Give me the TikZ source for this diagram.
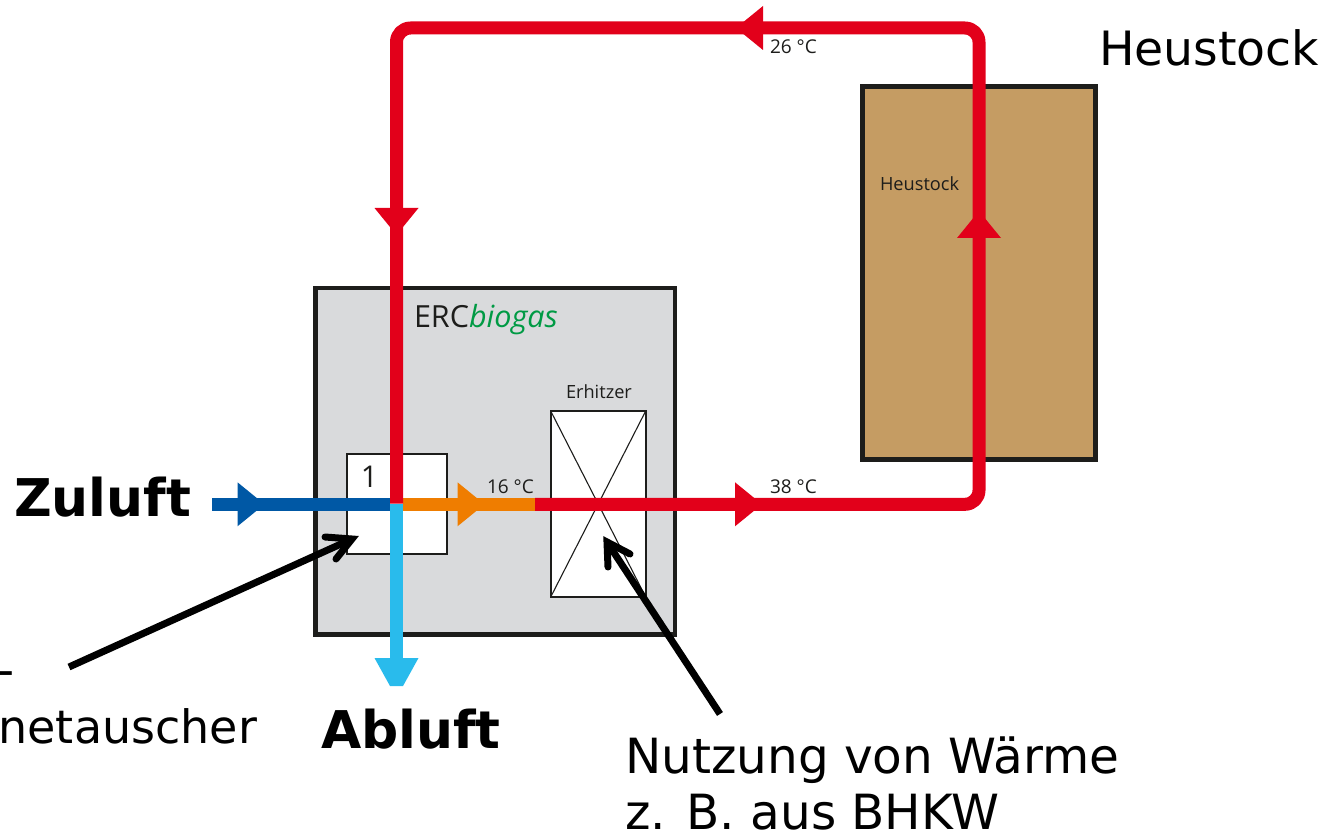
\documentclass[tikz,border=0pt]{standalone}
\usepackage{fontspec}
\setmainfont{DejaVu Sans}
\newfontfamily\smallfont{Open Sans}
\definecolor{flowred}{HTML}{E2001A}
\definecolor{flowblue}{HTML}{0058A5}
\definecolor{flowcyan}{HTML}{29BBEC}
\definecolor{floworange}{HTML}{EF7D00}
\definecolor{boxgray}{HTML}{D9DADC}
\definecolor{haytan}{HTML}{C59C63}
\definecolor{logogreen}{HTML}{009A44}
\definecolor{inkdark}{HTML}{1D1D1B}
\newcommand{\tipR}[3]{\fill[#1] (#2-13,#3-22) -- (#2+14,#3) -- (#2-13,#3+22) -- cycle;}
\newcommand{\tipL}[3]{\fill[#1] (#2+13,#3-22) -- (#2-14,#3) -- (#2+13,#3+22) -- cycle;}
\newcommand{\tipU}[3]{\fill[#1] (#2-22,#3+13) -- (#2,#3-14) -- (#2+22,#3+13) -- cycle;}
\newcommand{\tipD}[3]{\fill[#1] (#2-22,#3-13) -- (#2,#3+14) -- (#2+22,#3-13) -- cycle;}
\tikzset{
  x=1pt, y=-1pt,
  flow/.style={line width=13pt, line cap=butt, line join=round},
  plantbox/.style={draw=inkdark, line width=4.5pt, inner sep=0pt, outer sep=0pt},
  thinbox/.style={draw=inkdark, line width=1.7pt, fill=white, inner sep=0pt, outer sep=0pt},
  callout/.style={line width=7pt, black},
  callouthead/.style={line width=7pt, black, line cap=round, miter limit=10},
  biglabel/.style={anchor=base west, inner sep=0pt, outer sep=0pt, font=\fontsize{47.3}{47.3}\selectfont, text=black},
  uselabel/.style={biglabel, font=\fontsize{48.5}{48.5}\selectfont},
  boldlabel/.style={biglabel, font=\fontsize{52}{52}\selectfont\bfseries},
  smalllabel/.style={anchor=base west, inner sep=0pt, outer sep=0pt, text=inkdark, font=\smallfont\fontsize{18.2}{18.2}\selectfont},
}
\begin{document}
\begin{tikzpicture}
\useasboundingbox (0,0) rectangle (1328,834);
% boxes
\node[plantbox, fill=boxgray, minimum width=359.5pt, minimum height=346.5pt] (plant) at (495.25,461.25) {};
\node[plantbox, fill=haytan, minimum width=233pt, minimum height=372.5pt] (hay) at (979,273) {};
\draw[inkdark, line width=1pt] (860.5,85) -- (1078,85);
\node[thinbox, minimum width=100pt, minimum height=100pt] (hx) at (396.7,504.3) {};
\node[thinbox, minimum width=95pt, minimum height=186pt] (heater) at (598.2,504) {};
\draw[inkdark, line width=1.1pt] (heater.north west) -- (heater.south east) (heater.north east) -- (heater.south west);
% flow coordinates
\coordinate (inlet) at (212,504.3);
\coordinate (cross) at (396.5,504.3);
\coordinate (mix) at (535,504.3);
\coordinate (corner1) at (979,504.3);
\coordinate (corner2) at (979,28);
\coordinate (corner3) at (396.5,28);
\coordinate (outlet) at (396.5,686);
% flows
\draw[flow, flowcyan] (cross) -- (outlet);
\draw[flow, flowblue] (inlet) -- (390,504.3);
\draw[flow, floworange] (403,504.3) -- (mix);
\draw[flow, flowred, rounded corners=14pt] (mix) -- (corner1) -- (corner2) -- (corner3) -- (396.5,503.5);
% arrowheads
\tipR{flowblue}{250.5}{504.3}
\tipR{floworange}{470.5}{504.3}
\tipR{flowred}{748}{504.3}
\tipL{flowred}{750}{28}
\tipD{flowred}{396.5}{221}
\tipU{flowred}{979}{225}
\fill[flowcyan] (374.5,658) -- (418.5,658) -- (403,686) -- (390,686) -- cycle;
% temperatures and labels
\node[smalllabel, font=\smallfont\fontsize{19}{19}\selectfont] (t26) at (770,54) {26 °C};
\node[smalllabel, font=\smallfont\fontsize{19}{19}\selectfont] (t38) at (770,493) {38 °C};
\node[smalllabel, font=\smallfont\fontsize{19}{19}\selectfont] (t16) at (487,493) {16 °C};
\node[smalllabel] (haysmall) at (880,190.5) {Heustock};
\node[smalllabel] (heaterlabel) at (566,398.5) {Erhitzer};
\node[smalllabel, anchor=base, font=\smallfont\fontsize{30}{30}\selectfont] (one) at (369.5,487.5) {1};
\node[smalllabel, font=\smallfont\fontsize{30.5}{30.5}\selectfont] (logo) at (414,327) {ERC\textcolor{logogreen}{\itshape biogas}};
% big labels
\node[biglabel] (hayhead) at (1099,66) {Heustock};
\node[boldlabel] (zu) at (14,516) {Zuluft};
\node[boldlabel] (ab) at (321,748.5) {Abluft};
\node[uselabel] (use1) at (625,773) {Nutzung von Wärme};
\node[uselabel] (use2) at (625,829.5) {z. B. aus BHKW};
\node[biglabel, anchor=base east, font=\fontsize{46}{46}\selectfont] (exch2) at (257,743) {netauscher};
\node[biglabel, anchor=base west] (exch1) at (-2,686) {-};
% callouts
\coordinate (c1s) at (69,667);
\coordinate (c1t) at (352,539);
\coordinate (c1a) at (325,537);
\coordinate (c1b) at (336,559);
\draw[callout] (c1s) -- (c1t);
\draw[callouthead] (c1a) -- (c1t) -- (c1b);
\coordinate (c2s) at (720,714);
\coordinate (c2t) at (607,542);
\coordinate (c2a) at (630,554);
\coordinate (c2b) at (608,567);
\draw[callout] (c2s) -- (c2t);
\draw[callouthead] (c2a) -- (c2t) -- (c2b);
\end{tikzpicture}
\end{document}
